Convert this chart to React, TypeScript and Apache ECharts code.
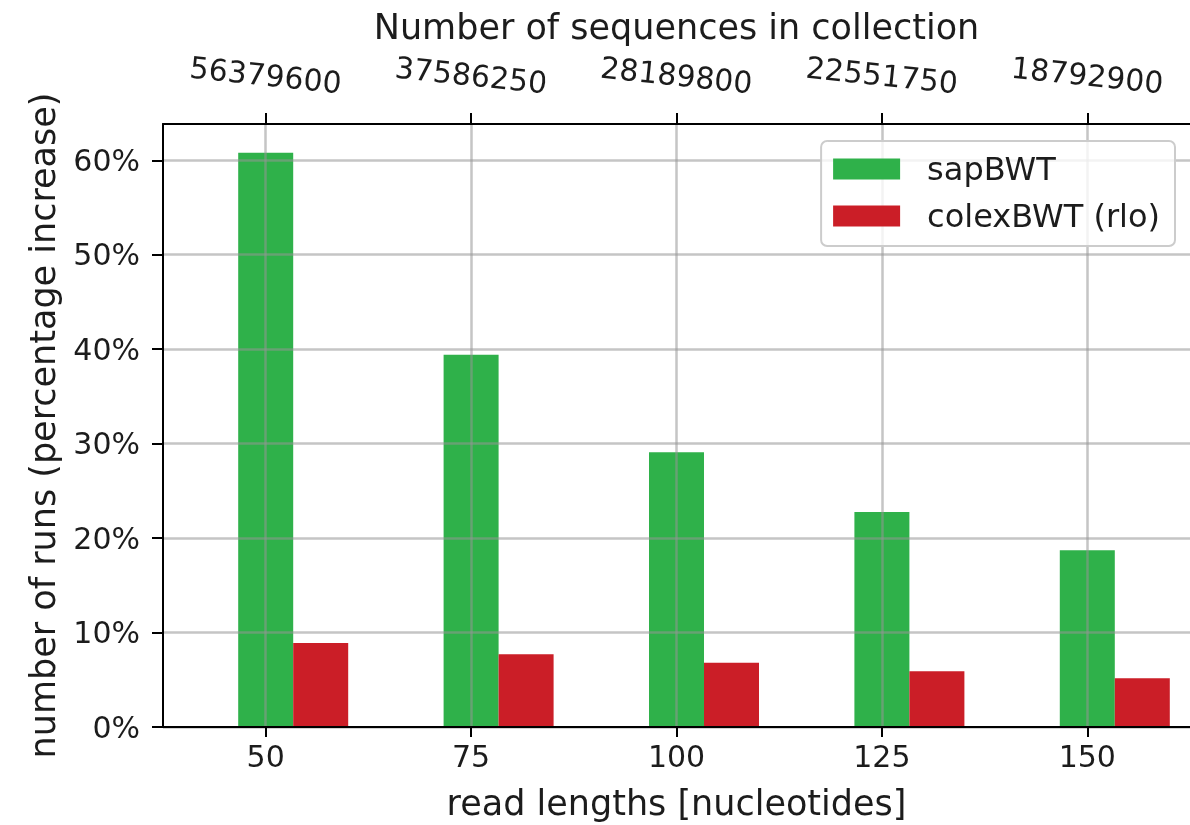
import React, { useEffect, useRef } from 'react';
import * as echarts from 'echarts';

const readLengths = ['50', '75', '100', '125', '150'];
const sequenceCounts = ['56379600', '37586250', '28189800', '22551750', '18792900'];
const sapBWT = [60.8, 39.4, 29.1, 22.75, 18.7];
const colexBWT = [8.9, 7.7, 6.8, 5.9, 5.15];
const yTickValues = [0, 10, 20, 30, 40, 50, 60];

const GREEN = '#2fb14a';
const RED = '#cb1e27';
const TEXT = '#1c1c1c';
const FONT = 'DejaVu Sans';

export default function App() {
  const ref = useRef<HTMLDivElement>(null);
  useEffect(() => {
    const chart = echarts.init(ref.current!, null, { renderer: 'svg' });
    const gridLine = { show: true, lineStyle: { color: 'rgba(150,150,150,0.55)', width: 2.5 } };
    const spine = { show: true, lineStyle: { color: '#000', width: 2 } };
    chart.setOption({
      animation: false,
      textStyle: { fontFamily: FONT },
      grid: { left: 163, right: 0, top: 124, bottom: 98, containLabel: false },
      legend: {
        data: ['sapBWT', 'colexBWT (rlo)'],
        orient: 'vertical',
        right: 15,
        top: 141,
        z: 20,
        icon: 'rect',
        itemWidth: 67,
        itemHeight: 21,
        itemGap: 15,
        padding: [12, 15, 14, 12],
        backgroundColor: 'rgba(255,255,255,0.8)',
        borderColor: '#cccccc',
        borderWidth: 2,
        borderRadius: 6,
        textStyle: { fontSize: 32, color: TEXT, fontFamily: FONT, padding: [0, 0, 0, 22] },
      },
      xAxis: [
        {
          type: 'category',
          data: readLengths,
          position: 'bottom',
          boundaryGap: true,
          z: 10,
          axisLine: spine,
          axisTick: { show: true, alignWithLabel: true, length: 10, lineStyle: { color: '#000', width: 2 } },
          axisLabel: { fontSize: 30, color: TEXT, margin: 14, fontFamily: FONT },
          splitLine: { ...gridLine, alignWithLabel: true },
          name: 'read lengths [nucleotides]',
          nameLocation: 'middle',
          nameGap: 58,
          nameTextStyle: { fontSize: 35, color: TEXT, fontFamily: FONT },
        },
        {
          type: 'category',
          data: sequenceCounts,
          position: 'top',
          boundaryGap: true,
          z: 10,
          axisLine: spine,
          axisTick: { show: true, alignWithLabel: true, length: 11, lineStyle: { color: '#000', width: 2 } },
          axisLabel: {
            fontSize: 30,
            color: TEXT,
            rotate: 6,
            align: 'center',
            verticalAlign: 'middle',
            margin: 49,
            fontFamily: FONT,
          },
          splitLine: { show: false },
          name: 'Number of sequences in collection',
          nameLocation: 'middle',
          nameGap: 80,
          nameTextStyle: { fontSize: 35, color: TEXT, fontFamily: FONT },
        },
      ],
      yAxis: {
        type: 'value',
        min: 0,
        max: 63.84,
        interval: 10,
        z: 10,
        axisLine: spine,
        axisTick: { show: true, length: 11, lineStyle: { color: '#000', width: 2 }, customValues: yTickValues },
        axisLabel: {
          fontSize: 30,
          color: TEXT,
          margin: 23,
          fontFamily: FONT,
          customValues: yTickValues,
          formatter: (v: number) => `${v}%`,
        },
        splitLine: gridLine,
        name: 'number of runs (percentage increase)',
        nameLocation: 'middle',
        nameGap: 103,
        nameTextStyle: { fontSize: 35, color: TEXT, fontFamily: FONT },
      },
      series: [
        {
          name: '_pad',
          type: 'bar',
          data: readLengths.map(() => 0),
          barWidth: 55,
          barGap: '0%',
          silent: true,
          itemStyle: { color: 'rgba(0,0,0,0)' },
        },
        {
          name: 'sapBWT',
          type: 'bar',
          data: sapBWT,
          barWidth: 55,
          barGap: '0%',
          itemStyle: { color: GREEN },
        },
        {
          name: 'colexBWT (rlo)',
          type: 'bar',
          data: colexBWT,
          barWidth: 55,
          barGap: '0%',
          itemStyle: { color: RED },
        },
      ],
    });
    return () => chart.dispose();
  }, []);
  return <div ref={ref} style={{ position: 'fixed', left: 0, top: 0, width: 1190, height: 825 }} />;
}
